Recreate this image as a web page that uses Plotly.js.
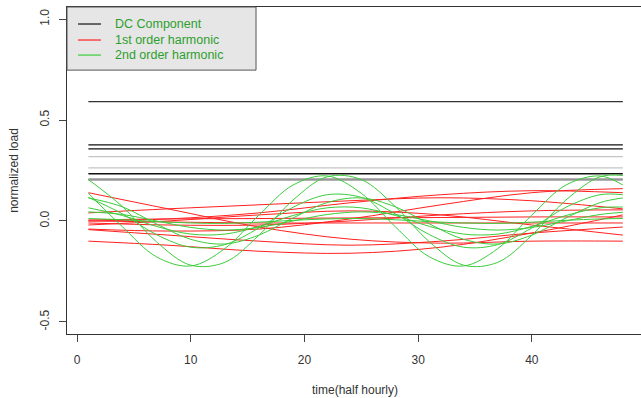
<!DOCTYPE html>
<html><head><meta charset="utf-8">
<script src="https://cdn.plot.ly/plotly-3.0.1.min.js"></script>
<style>html,body{margin:0;padding:0;background:#fff}#chart{width:641px;height:398px}</style>
</head><body><div id="chart"></div>
<script>
// time axes (half-hourly index)
const tGreen = [1,4,7,10,13,16,19,22,25,28,31,34,37,40,43,46,48];
const tRed = [1,8,16,24,32,40,48];
const tDC = [1,48];

// DC component levels
const dcLevels = [0.591,0.377,0.357,0.319,0.263,0.234,0.207,0.203];

// 1st order harmonics
const red1 = [0.14,0.06,-0.03,-0.09,-0.11,-0.10,-0.10];
const red2 = [-0.10,-0.12,-0.15,-0.16,-0.13,-0.06,0.03];
const red3 = [-0.04,-0.05,-0.04,0.01,0.08,0.14,0.16];
const red4 = [0.0,0.01,0.04,0.09,0.13,0.15,0.14];
const red5 = [0.04,0.06,0.08,0.10,0.115,0.10,0.06];
const red6 = [-0.01,-0.02,-0.02,0.0,0.03,0.05,0.055];
const red7 = [0.005,0.01,0.012,0.015,0.017,0.02,0.02];
const red8 = [0.0,-0.005,-0.01,-0.01,-0.01,-0.01,-0.01];
const red9 = [-0.043,-0.07,-0.10,-0.12,-0.10,-0.06,-0.03];
const red10 = [-0.02,0.0,0.03,0.05,0.03,-0.02,-0.07];

// 2nd order harmonics
const green1 = [0.205,0.071,-0.104,-0.219,-0.205,-0.071,0.104,0.219,0.205,0.071,-0.104,-0.219,-0.205,-0.071,0.104,0.219,0.225];
const green2 = [0.137,-0.029,-0.178,-0.223,-0.137,0.029,0.178,0.223,0.137,-0.029,-0.178,-0.223,-0.137,0.029,0.178,0.223,0.178];
const green3 = [0.117,0.035,-0.068,-0.130,-0.117,-0.035,0.068,0.130,0.117,0.035,-0.068,-0.130,-0.117,-0.035,0.068,0.130,0.130];
const green4 = [0.114,0.070,-0.015,-0.091,-0.114,-0.070,0.015,0.091,0.114,0.070,-0.015,-0.091,-0.114,-0.070,0.015,0.091,0.114];
const green5 = [0.065,0.027,-0.027,-0.065,-0.065,-0.027,0.027,0.065,0.065,0.027,-0.027,-0.065,-0.065,-0.027,0.027,0.065,0.069];
const green6 = [0.045,0.032,0.000,-0.032,-0.045,-0.032,0.000,0.032,0.045,0.032,0.000,-0.032,-0.045,-0.032,0.000,0.032,0.043];
const green7 = [0.012,0.006,-0.003,-0.010,-0.012,-0.006,0.003,0.010,0.012,0.006,-0.003,-0.010,-0.012,-0.006,0.003,0.010,0.012];

const xTicks = [0,10,20,30,40];
const yTicks = [-0.5,0,0.5,1];
const yTickText = ['-0.5','0.0','0.5','1.0'];
const legendLabels = ['DC Component','1st order harmonic','2nd order harmonic'];

const dcColors = ['#333','#111','#111','#c4c4c4','#c4c4c4','#111','#666','#999'];
const FONT = 'Liberation Sans, Arial, Helvetica, sans-serif';

const traces = [];
dcLevels.forEach((lv,i) => traces.push({
  x: tDC, y: [lv, lv], mode:'lines', type:'scatter', hoverinfo:'skip', showlegend:false,
  line:{color: dcColors[i], width: 1.3}
}));
[red1,red2,red3,red4,red5,red6,red7,red8,red9,red10].forEach(r => traces.push({
  x: tRed, y: r, mode:'lines', type:'scatter', showlegend:false,
  line:{color:'#ff2020', width:1, shape:'spline', smoothing:1}
}));
[green1,green2,green3,green4,green5,green6,green7].forEach(g => traces.push({
  x: tGreen, y: g, mode:'lines', type:'scatter', showlegend:false,
  line:{color:'#3ccc3c', width:1, shape:'spline', smoothing:1}
}));

// legend (drawn in the plot's top-left corner)
const legColors = ['#111','#ff2020','#3ccc3c'];
const legY = [0.948, 0.899, 0.853];
const shapes = [{type:'rect', xref:'paper', yref:'paper', x0:0, x1:0.3293, y0:0.807, y1:1,
  fillcolor:'#e6e6e6', line:{color:'#555', width:1}}];
const annotations = [];
legendLabels.forEach((lab,i) => {
  shapes.push({type:'line', xref:'paper', yref:'paper', x0:0.0192, x1:0.0592, y0:legY[i], y1:legY[i],
    line:{color:legColors[i], width:1.2}});
  annotations.push({xref:'paper', yref:'paper', x:0.0801, y:legY[i], xanchor:'left', yanchor:'middle',
    text:lab, showarrow:false, font:{family:FONT, size:12.5, color:'#2e9e2e'}});
});
annotations.push({xref:'paper', yref:'paper', x:0.501, y:-0.171, xanchor:'center', yanchor:'middle',
  text:'time(half hourly)', showarrow:false, font:{family:FONT, size:12, color:'#333'}});
annotations.push({xref:'paper', yref:'paper', x:-0.0935, y:0.5, xanchor:'center', yanchor:'middle',
  textangle:-90, text:'normalized load', showarrow:false, font:{family:FONT, size:12, color:'#333'}});

const layout = {
  width:641, height:398,
  margin:{l:67, r:0, t:7, b:64},
  paper_bgcolor:'#fff', plot_bgcolor:'#fff',
  font:{family:FONT, size:12, color:'#333'},
  showlegend:false,
  xaxis:{range:[-0.88,49.6], tickvals:xTicks, ticks:'outside', ticklen:7, tickcolor:'#444',
    showline:true, mirror:true, linecolor:'#333', linewidth:1, showgrid:false, zeroline:false,
    ticklabelstandoff:8, tickfont:{family:FONT, size:12, color:'#333'}},
  yaxis:{range:[-0.56,1.06], tickvals:yTicks, ticktext:yTickText, ticks:'outside', ticklen:7, tickcolor:'#444',
    tickangle:-90, showline:true, mirror:false, linecolor:'#333', linewidth:1, showgrid:false, zeroline:false,
    ticklabelstandoff:5, tickfont:{family:FONT, size:12, color:'#333'}},
  shapes: shapes, annotations: annotations
};
Plotly.newPlot('chart', traces, layout, {staticPlot:true, displayModeBar:false});
</script></body></html>
